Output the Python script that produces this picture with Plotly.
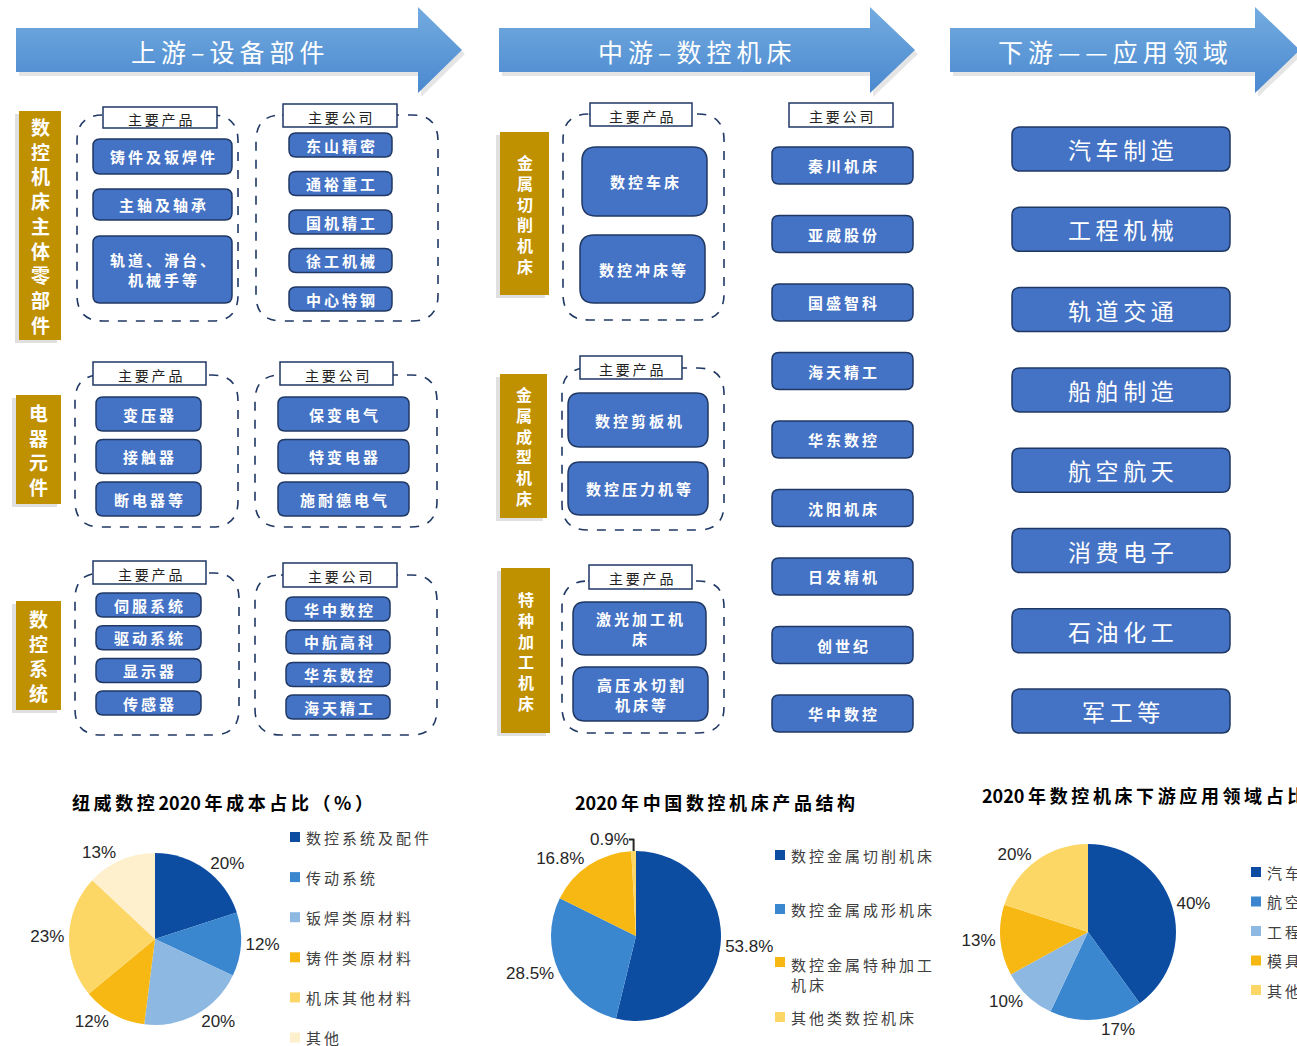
import plotly.graph_objects as go

# ---- data ----
headers = ["上游–设备部件", "中游–数控机床", "下游——应用领域"]

up_groups = ["数控机床主体零部件", "电器元件", "数控系统"]
up_products = [["铸件及钣焊件", "主轴及轴承", "轨道、滑台、<br>机械手等"],
               ["变压器", "接触器", "断电器等"],
               ["伺服系统", "驱动系统", "显示器", "传感器"]]
up_companies = [["东山精密", "通裕重工", "国机精工", "徐工机械", "中心特钢"],
                ["保变电气", "特变电器", "施耐德电气"],
                ["华中数控", "中航高科", "华东数控", "海天精工"]]

mid_groups = ["金属切削机床", "金属成型机床", "特种加工机床"]
mid_products = [["数控车床", "数控冲床等"],
                ["数控剪板机", "数控压力机等"],
                ["激光加工机<br>床", "高压水切割<br>机床等"]]
mid_companies = ["秦川机床", "亚威股份", "国盛智科", "海天精工", "华东数控",
                 "沈阳机床", "日发精机", "创世纪", "华中数控"]

down_fields = ["汽车制造", "工程机械", "轨道交通", "船舶制造", "航空航天",
               "消费电子", "石油化工", "军工等"]

cost_title = "纽威数控2020年成本占比（%）"
cost_labels = ["数控系统及配件", "传动系统", "钣焊类原材料", "铸件类原材料", "机床其他材料", "其他"]
cost_values = [20, 12, 20, 12, 23, 13]

struct_title = "2020年中国数控机床产品结构"
struct_labels = ["数控金属切削机床", "数控金属成形机床", "数控金属特种加工机床", "其他类数控机床"]
struct_values = [53.8, 28.5, 16.8, 0.9]

app_title = "2020年数控机床下游应用领域占比"
app_labels = ["汽车", "航空航天", "工程机械", "模具", "其他"]
app_values = [40, 17, 10, 13, 20]

# ---- style ----
W, H = 1297, 1046
CJK = "Noto Sans CJK SC"
GOLD = "#BF9000"
BOX = "#4472C4"
BOX_LINE = "#203864"
NAVY = "#1F3864"
DARK, MID, LIGHT, ORANGE, YELLOW, CREAM = "#0D4DA1", "#3A87CF", "#8DB8E2", "#F7B813", "#FDD766", "#FEF0CC"
THIN = "\u2009"

fig = go.Figure()
shapes = []
annotations = []


def spaced(s, sp=THIN):
    # loosen CJK text a little, like the original's wide Kai font
    parts = []
    for line in s.split("<br>"):
        out = ""
        for i, ch in enumerate(line):
            if i and not (ch.isascii() and line[i - 1].isascii()):
                out += sp
            out += ch
        parts.append(out)
    return "<br>".join(parts)


def rrect(x0, y0, x1, y1, r):
    return (f"M{x0+r},{y0} L{x1-r},{y0} Q{x1},{y0} {x1},{y0+r} L{x1},{y1-r} Q{x1},{y1} {x1-r},{y1} "
            f"L{x0+r},{y1} Q{x0},{y1} {x0},{y1-r} L{x0},{y0+r} Q{x0},{y0} {x0+r},{y0} Z")


def text(x, y, s, size, color="white", bold=False, xanchor="center", family=CJK):
    if bold:
        s = f"<b>{s}</b>"
    annotations.append(dict(x=x, y=y, xref="x", yref="y", text=s, showarrow=False,
                            xanchor=xanchor, yanchor="middle",
                            font=dict(family=family, size=size, color=color)))


def blue_box(x0, y0, x1, y1, label, size=15, r=7, bold=True):
    shapes.append(dict(type="path", path=rrect(x0, y0, x1, y1, r), xref="x", yref="y",
                       fillcolor=BOX, line=dict(color=BOX_LINE, width=1.5)))
    text((x0 + x1) / 2, (y0 + y1) / 2, spaced(label), size, bold=bold)


def gold_bar(x0, y0, x1, y1, label, size):
    shapes.append(dict(type="rect", x0=x0 - 4, y0=y0 + 3, x1=x1 - 4, y1=y1 + 3, xref="x", yref="y",
                       fillcolor="rgba(0,0,0,0.12)", line=dict(width=0)))
    shapes.append(dict(type="rect", x0=x0, y0=y0, x1=x1, y1=y1, xref="x", yref="y",
                       fillcolor=GOLD, line=dict(width=0)))
    text((x0 + x1) / 2, (y0 + y1) / 2, "<br>".join(label), size, bold=True)


def dashed(x0, y0, x1, y1, r=26):
    shapes.append(dict(type="path", path=rrect(x0, y0, x1, y1, r), xref="x", yref="y",
                       fillcolor="rgba(0,0,0,0)", line=dict(color=NAVY, width=1.6, dash="dash")))


def tag(x0, y0, x1, y1, label):
    shapes.append(dict(type="rect", x0=x0, y0=y0, x1=x1, y1=y1, xref="x", yref="y",
                       fillcolor="white", line=dict(color=NAVY, width=1.5)))
    text((x0 + x1) / 2, (y0 + y1) / 2 + 1, spaced(label), 14, color="#222222")


# ---- arrows ----
arrow_geo = [(16, 418, 462), (499, 870, 915), (950, 1255, 1300)]
for (bx0, hx, tip), title in zip(arrow_geo, headers):
    xs = [bx0, hx, hx, tip, hx, hx, bx0, bx0]
    ys = [28, 28, 7, 50, 93, 72, 72, 28]
    fig.add_trace(go.Scatter(x=[v + 3 for v in xs], y=[v + 4 for v in ys], mode="lines", fill="toself",
                             fillcolor="rgba(0,0,0,0.10)", line=dict(width=0), hoverinfo="skip",
                             showlegend=False))
    fig.add_trace(go.Scatter(x=xs, y=ys, mode="lines", fill="toself", line=dict(width=0),
                             fillgradient=dict(type="vertical", start=7, stop=93,
                                               colorscale=[[0, "#74ACE0"], [1, "#4A88CF"]]),
                             hoverinfo="skip", showlegend=False))
    text((bx0 + hx) / 2 + 10, 51, spaced(title), 25)

# ---- upstream ----
up_geo = [
    dict(bar=(19, 111, 61, 340), bsize=19,
         pc=(77, 115, 238, 321), pt=(103, 107, 217, 128), px=(93, 232),
         py=[(139, 174), (189, 220), (236, 303)],
         cc=(256, 115, 438, 321), ct=(283, 104, 397, 127), cx=(289, 392),
         cy=[(133 + 38.5 * i, 157 + 38.5 * i) for i in range(5)]),
    dict(bar=(16, 395, 61, 504), bsize=19,
         pc=(75, 375, 238, 527), pt=(93, 362, 206, 385), px=(96, 201),
         py=[(397 + 42.5 * i, 431 + 42.5 * i) for i in range(3)],
         cc=(255, 375, 437, 527), ct=(280, 362, 393, 385), cx=(278, 409),
         cy=[(397 + 42.5 * i, 431 + 42.5 * i) for i in range(3)]),
    dict(bar=(16, 601, 61, 710), bsize=19,
         pc=(75, 573, 239, 735), pt=(93, 561, 206, 584), px=(96, 201),
         py=[(593 + 32.7 * i, 617 + 32.7 * i) for i in range(4)],
         cc=(255, 575, 437, 735), ct=(283, 563, 397, 587), cx=(286, 390),
         cy=[(597 + 32.7 * i, 621 + 32.7 * i) for i in range(4)]),
]
for g, grp, prods, comps in zip(up_geo, up_groups, up_products, up_companies):
    gold_bar(*g["bar"], grp, g["bsize"])
    dashed(*g["pc"])
    tag(*g["pt"], "主要产品")
    for (y0, y1), p in zip(g["py"], prods):
        blue_box(g["px"][0], y0, g["px"][1], y1, p)
    dashed(*g["cc"])
    tag(*g["ct"], "主要公司")
    for (y0, y1), c in zip(g["cy"], comps):
        blue_box(g["cx"][0], y0, g["cx"][1], y1, c)

# ---- midstream ----
mid_geo = [
    dict(bar=(500, 132, 549, 295), pc=(563, 114, 724, 320), pt=(590, 103, 692, 126),
         boxes=[(582, 147, 707, 216), (580, 235, 705, 303)], r=14),
    dict(bar=(500, 374, 547, 518), pc=(562, 368, 724, 530), pt=(580, 356, 682, 379),
         boxes=[(568, 393, 708, 447), (568, 462, 708, 515)], r=12),
    dict(bar=(501, 568, 550, 733), pc=(562, 581, 724, 733), pt=(589, 565, 692, 589),
         boxes=[(573, 602, 706, 655), (573, 667, 708, 721)], r=12),
]
for g, grp, prods in zip(mid_geo, mid_groups, mid_products):
    gold_bar(*g["bar"], grp, 16)
    dashed(*g["pc"])
    tag(*g["pt"], "主要产品")
    for (x0, y0, x1, y1), p in zip(g["boxes"], prods):
        blue_box(x0, y0, x1, y1, p, size=15, r=g["r"])

tag(789, 103, 893, 127, "主要公司")
for i, c in enumerate(mid_companies):
    y0 = 147 + 68.5 * i
    blue_box(772, y0, 913, y0 + 37, c, size=15)

# ---- downstream ----
for i, f in enumerate(down_fields):
    y0 = 127 + 80.3 * i
    blue_box(1012, y0, 1230, y0 + 44, f, size=23, r=8, bold=False)

# ---- pies ----
pies = [
    dict(title=cost_title, labels=cost_labels, values=cost_values,
         colors=[DARK, MID, LIGHT, ORANGE, YELLOW, CREAM], c=(155, 939), r=86,
         tx=222, ty=802, lx=290, ly=[837 + 40.1 * i for i in range(6)]),
    dict(title=struct_title, labels=struct_labels, values=struct_values,
         colors=[DARK, MID, ORANGE, YELLOW], c=(636, 936), r=85,
         tx=715, ty=802, lx=775, ly=[855, 909, 962, 1017]),
    dict(title=app_title, labels=app_labels, values=app_values,
         colors=[DARK, MID, LIGHT, ORANGE, YELLOW], c=(1088, 932), r=88,
         tx=980, ty=795, lx=1251, ly=[872 + 29.5 * i for i in range(5)]),
]
for k, p in enumerate(pies):
    cx, cy = p["c"]
    R = p["r"]
    fig.add_trace(go.Pie(labels=p["labels"], values=p["values"], sort=False, direction="clockwise",
                         rotation=0, marker=dict(colors=p["colors"], line=dict(width=0)),
                         textposition="outside", texttemplate="%{value}%",
                         outsidetextfont=dict(family="Arial, Liberation Sans", size=17, color="#262626"),
                         domain=dict(x=[(cx - R) / W, (cx + R) / W], y=[1 - (cy + R) / H, 1 - (cy - R) / H]),
                         showlegend=False, hoverinfo="label+value"))
    text(p["tx"], p["ty"], spaced(p["title"]), 18, color="black", bold=True,
         xanchor="left" if k == 2 else "center")
    for lab, col, y in zip(p["labels"], p["colors"], p["ly"]):
        shapes.append(dict(type="rect", x0=p["lx"], y0=y - 5, x1=p["lx"] + 10, y1=y + 5,
                           xref="x", yref="y", fillcolor=col, line=dict(width=0)))
        if k == 1 and len(lab) > 8:
            lab = spaced(lab[:8] + "<br>" + lab[8:])
            annotations.append(dict(x=p["lx"] + 14, y=y - 10, xref="x", yref="y", text=lab,
                                    showarrow=False, xanchor="left", yanchor="top", align="left",
                                    font=dict(family=CJK, size=15, color="#404040")))
        else:
            text(p["lx"] + 14, y, spaced(lab), 15, color="#404040", xanchor="left")

fig.update_layout(
    width=W, height=H,
    margin=dict(l=0, r=0, t=0, b=0),
    paper_bgcolor="white", plot_bgcolor="white",
    xaxis=dict(range=[0, W], visible=False, fixedrange=True),
    yaxis=dict(range=[H, 0], visible=False, fixedrange=True),
    shapes=shapes, annotations=annotations,
    showlegend=False,
)

fig.write_html("out.html", config={"displayModeBar": False},
               post_script="document.body.style.margin='0';document.body.style.overflow='hidden';")
